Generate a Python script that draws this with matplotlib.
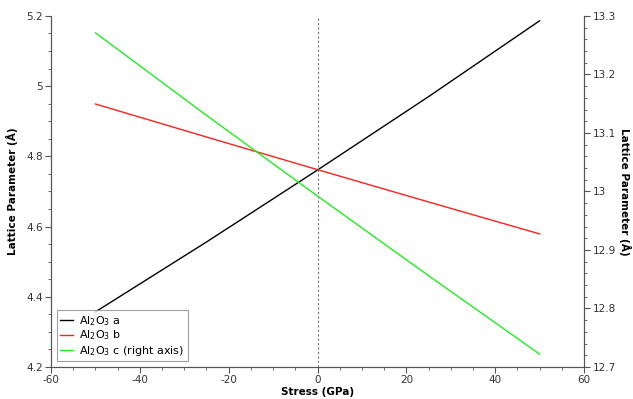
import matplotlib
matplotlib.use('Agg')
import matplotlib.pyplot as plt
from matplotlib.ticker import MultipleLocator

# stress values (GPa) and lattice parameters (Angstrom)
stress = [-50, -25, 0, 25, 50]
a_vals = [4.357, 4.556, 4.761, 4.970, 5.186]
b_vals = [4.949, 4.855, 4.762, 4.670, 4.579]
c_vals = [13.271, 13.130, 12.992, 12.856, 12.722]

plt.rcParams['mathtext.default'] = 'regular'
plt.rcParams['font.family'] = 'DejaVu Sans'
plt.rcParams['axes.unicode_minus'] = False

fig = plt.figure(figsize=(6.33, 3.99), dpi=100)
ax = fig.add_axes([0.0806, 0.0802, 0.842, 0.88])
ax2 = ax.twinx()

la, = ax.plot(stress, a_vals, color='black', linewidth=1, label=r'Al$_2$O$_3$ a')
lb, = ax.plot(stress, b_vals, color='#ff2020', linewidth=1, label=r'Al$_2$O$_3$ b')
lc, = ax2.plot(stress, c_vals, color='#22ee22', linewidth=1, label=r'Al$_2$O$_3$ c (right axis)')
ax.axvline(0, color='#777777', linewidth=0.8, linestyle=(0, (2, 2)))

ax.set_xlim(-60, 60)
ax.set_ylim(4.2, 5.2)
ax2.set_ylim(12.7, 13.3)

ax.xaxis.set_major_locator(MultipleLocator(20))
ax.xaxis.set_minor_locator(MultipleLocator(5))
ax.yaxis.set_major_locator(MultipleLocator(0.2))
ax.yaxis.set_minor_locator(MultipleLocator(0.05))
ax2.yaxis.set_major_locator(MultipleLocator(0.1))
ax2.yaxis.set_minor_locator(MultipleLocator(0.02))
ax.xaxis.set_major_formatter(plt.FuncFormatter(lambda v, p: f'{v:g}'))
ax.yaxis.set_major_formatter(plt.FuncFormatter(lambda v, p: f'{v:g}'))
ax2.yaxis.set_major_formatter(plt.FuncFormatter(lambda v, p: f'{v:g}'))

for a in (ax, ax2):
    a.spines['top'].set_visible(False)
    for s in a.spines.values():
        s.set_color('#555555')
        s.set_linewidth(0.8)
    a.tick_params(which='both', colors='#555555', labelcolor='#333333', labelsize=7.5, pad=2)
    a.tick_params(which='major', length=4)
    a.tick_params(which='minor', length=2.5)

ax.set_xlabel('Stress (GPa)', fontsize=7.5, fontweight='bold', labelpad=1)
ax.set_ylabel('Lattice Parameter (Å)', fontsize=7.5, fontweight='bold', labelpad=6)
ax2.set_ylabel('Lattice Parameter (Å)', fontsize=7.5, fontweight='bold', rotation=270, labelpad=11)

leg = ax.legend(handles=[la, lb, lc], loc='lower left', fontsize=8,
                frameon=True, fancybox=False, edgecolor='#888888',
                handlelength=1.1, handletextpad=0.6, labelspacing=0.1,
                borderaxespad=0.5, borderpad=0.35)
leg.get_frame().set_linewidth(0.8)

fig.savefig('out.png', dpi=100, facecolor='white')
